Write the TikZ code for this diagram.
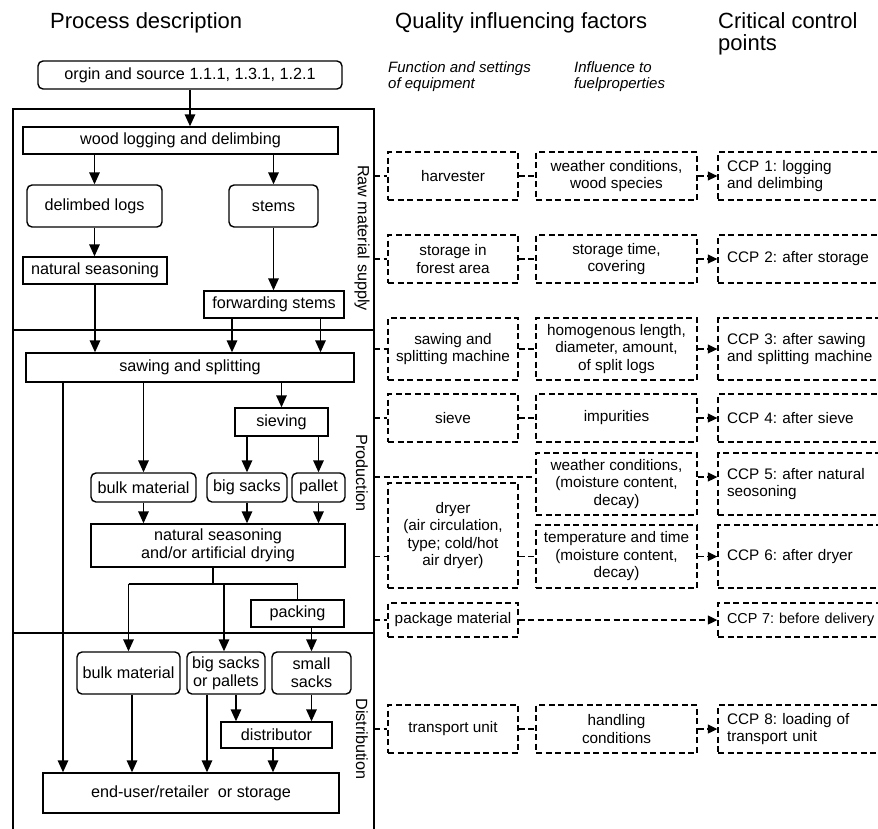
\documentclass[tikz,border=0pt]{standalone}
\usepackage{fontspec}
\setmainfont{Liberation Sans}
\usetikzlibrary{arrows.meta}
\frenchspacing
\begin{document}
\begin{tikzpicture}[x=1pt,y=-1pt,
  solidbox/.style={draw, line width=1.4pt, inner sep=0pt, align=center, font=\fontsize{16.2}{18}\selectfont},
  rbox/.style={solidbox, rounded corners=5pt},
  dbox/.style={draw, line width=1.35pt, dash pattern=on 6pt off 3.5pt, inner sep=0pt, align=center, font=\fontsize{15.3}{17.5}\selectfont},
  acol/.style={dbox, minimum width=130pt},
  bcol/.style={dbox, minimum width=161pt},
  ccp/.style={dbox, align=left, text width=175pt, inner xsep=9pt},
  arr/.style={line width=1.6pt, -{Triangle[length=12pt,width=10.5pt]}},
  ln/.style={line width=1.6pt},
  darr/.style={line width=1.35pt, dash pattern=on 6pt off 3.5pt, -{Triangle[length=9.5pt,width=9pt]}},
  dln/.style={line width=1.35pt, dash pattern=on 6pt off 3.5pt},
  frameline/.style={line width=1.6pt},
  side/.style={rotate=-90, inner sep=0pt, font=\fontsize{16.2}{18}\selectfont},
  head/.style={font=\fontsize{22}{22}\selectfont, inner sep=0pt, align=left},
  sub/.style={font=\fontsize{15}{16}\selectfont\itshape, inner sep=0pt, align=left}
]
\path[use as bounding box] (0,0) rectangle (878,828);
\clip (0,0) rectangle (878,828);

% headers
\node[head, anchor=base west] (h1) at (50,28) {Process description};
\node[head, anchor=base west] (h2) at (395,28) {Quality influencing factors};
\node[head, anchor=north west] (h3) at (718,12) {Critical control\\points};
\node[sub, anchor=north west] (s1) at (388,61) {Function and settings\\of equipment};
\node[sub, anchor=north west] (s2) at (574,61) {Influence to\\fuelproperties};

% frame
\coordinate (ftl) at (13,109);
\coordinate (ftr) at (374,109);
\coordinate (fbl) at (13,835);
\coordinate (fbr) at (374,835);
\coordinate (d1l) at (13,330);
\coordinate (d1r) at (374,330);
\coordinate (d2l) at (13,633);
\coordinate (d2r) at (374,633);
\draw[frameline] (fbl) -- (ftl) -- (ftr) -- (fbr);
\draw[frameline] (d1l) -- (d1r);
\draw[frameline] (d2l) -- (d2r);

% side labels
\node[side] (lraw) at (362,238) {Raw material supply};
\node[side] (lprod) at (362,473) {Production};
\node[side] (ldist) at (362,739) {Distribution};

% process boxes
\node[rbox, minimum width=304pt, minimum height=28pt] (src) at (190,75) {orgin and source 1.1.1, 1.3.1, 1.2.1};
\node[solidbox, minimum width=315pt, minimum height=27pt] (wood) at (180.5,140.5) {wood logging and delimbing};
\node[rbox, minimum width=135pt, minimum height=42pt] (dlogs) at (94.5,206) {delimbed logs};
\node[rbox, minimum width=89pt, minimum height=42pt] (stems) at (273.5,206) {stems};
\node[solidbox, minimum width=144pt, minimum height=27pt] (natseas) at (95,270.5) {natural seasoning};
\node[solidbox, minimum width=140pt, minimum height=27pt] (fwd) at (274,304.5) {forwarding stems};
\node[solidbox, minimum width=328pt, minimum height=29pt] (saw) at (190,367.5) {sawing and splitting};
\node[solidbox, minimum width=93pt, minimum height=28pt] (sieving) at (281.5,422) {sieving};
\node[rbox, minimum width=105pt, minimum height=29pt] (bulkA) at (143.5,487.5) {bulk material};
\node[rbox, minimum width=80pt, minimum height=29pt] (bigs) at (247,487.5) {big sacks};
\node[rbox, minimum width=53pt, minimum height=29pt] (pallet) at (318.5,487.5) {pallet};
\node[solidbox, minimum width=254pt, minimum height=43pt] (dry) at (218,545.5) {natural seasoning\\and/or artificial drying};
\node[solidbox, minimum width=93pt, minimum height=27pt] (packing) at (297.5,613.5) {packing};
\node[rbox, minimum width=103pt, minimum height=42pt] (bulkB) at (128.5,673) {bulk material};
\node[rbox, minimum width=78pt, minimum height=42pt] (bsp) at (226,673) {big sacks\\or pallets};
\node[rbox, minimum width=79pt, minimum height=42pt] (small) at (311.5,673) {small\\sacks};
\node[solidbox, minimum width=111pt, minimum height=26pt] (distr) at (276.5,735) {distributor};
\node[solidbox, minimum width=296pt, minimum height=40pt] (end) at (191,793) {end-user/retailer\ \ or storage};

% process connectors
\draw[arr] (src.south) -- (src.south |- wood.north);
\draw[arr] (dlogs.north |- wood.south) -- (dlogs.north);
\draw[arr] (stems.north |- wood.south) -- (stems.north);
\draw[arr] (dlogs.south) -- (dlogs.south |- natseas.north);
\draw[arr] (stems.south) -- (stems.south |- fwd.north);
\draw[arr] (natseas.south) -- (natseas.south |- saw.north);
\coordinate (fa) at ([xshift=-42pt]fwd.south);
\coordinate (fb) at ([xshift=46.5pt]fwd.south);
\draw[arr] (fa) -- (fa |- saw.north);
\draw[arr] (fb) -- (fb |- saw.north);
\coordinate (sa) at ([xshift=-127pt]saw.south);
\draw[arr] (sa) -- (sa |- end.north);
\draw[arr] (bulkA.north |- saw.south) -- (bulkA.north);
\draw[arr] (sieving.north |- saw.south) -- (sieving.north);
\draw[arr] (bigs.north |- sieving.south) -- (bigs.north);
\draw[arr] (pallet.north |- sieving.south) -- (pallet.north);
\draw[arr] (bulkA.south) -- (bulkA.south |- dry.north);
\draw[arr] (bigs.south) -- (bigs.south |- dry.north);
\draw[arr] (pallet.south) -- (pallet.south |- dry.north);
\coordinate (d0) at ([xshift=-5pt]dry.south);
\coordinate (jn) at ([yshift=-16pt]d0);
\draw[ln] (d0) -- (jn);
\draw[ln] (bulkB.north |- jn) -- (packing.north |- jn) -- (packing.north);
\draw[arr] (bulkB.north |- jn) -- (bulkB.north);
\coordinate (bj) at ([xshift=-2pt]bsp.north);
\draw[arr] (bj |- jn) -- (bj);
\draw[arr] (small.north |- packing.south) -- (small.north);
\coordinate (ba) at ([xshift=3.5pt]bulkB.south);
\draw[arr] (ba) -- (ba |- end.north);
\coordinate (pa) at ([xshift=-19pt]bsp.south);
\coordinate (pb) at ([xshift=10pt]bsp.south);
\draw[arr] (pa) -- (pa |- end.north);
\draw[arr] (pb) -- (pb |- distr.north);
\draw[arr] (small.south) -- (small.south |- distr.north);
\coordinate (da) at ([xshift=-3.5pt]distr.south);
\draw[arr] (da) -- (da |- end.north);

% quality factors
\node[acol, minimum height=48pt] (a1) at (453,176) {harvester};
\node[bcol, minimum height=48pt] (b1) at (616.5,176) {weather conditions,\\wood species};
\node[ccp, minimum height=48pt] (c1) at (814.5,176) {CCP 1: logging\\and delimbing};

\node[acol, minimum height=48pt] (a2) at (453,259) {storage in\\forest area};
\node[bcol, minimum height=48pt] (b2) at (616.5,259) {storage time,\\covering};
\node[ccp, minimum height=48pt] (c2) at (814.5,259) {CCP 2: after storage};

\node[acol, minimum height=62pt] (a3) at (453,349) {sawing and\\splitting machine};
\node[bcol, minimum height=62pt] (b3) at (616.5,349) {homogenous length,\\diameter, amount,\\of split logs};
\node[ccp, minimum height=62pt] (c3) at (814.5,349) {CCP 3: after sawing\\and splitting machine};

\node[acol, minimum height=48pt] (a4) at (453,418) {sieve};
\node[bcol, minimum height=48pt] (b4) at (616.5,418) {impurities};
\node[ccp, minimum height=48pt] (c4) at (814.5,418) {CCP 4: after sieve};

\node[bcol, minimum height=62pt] (b5) at (616.5,484) {weather conditions,\\(moisture content,\\decay)};
\node[ccp, minimum height=62pt] (c5) at (814.5,484) {CCP 5: after natural\\seosoning};

\node[acol, minimum height=105pt] (a6) at (453,535.5) {dryer\\(air circulation,\\type; cold/hot\\air dryer)};
\node[bcol, minimum height=63pt] (b6) at (616.5,556.5) {temperature and time\\(moisture content,\\decay)};
\node[ccp, minimum height=63pt] (c6) at (814.5,556.5) {CCP 6: after dryer};

\node[acol, minimum height=34pt] (a7) at (453,620) {package material};
\node[ccp, minimum height=34pt, font=\fontsize{14.4}{17}\selectfont] (c7) at (814.5,620) {CCP 7: before delivery};

\node[acol, minimum height=48pt] (a8) at (453,729) {transport unit};
\node[bcol, minimum height=48pt] (b8) at (616.5,729) {handling\\conditions};
\node[ccp, minimum height=48pt] (c8) at (814.5,729) {CCP 8: loading of\\transport unit};

% right connectors
\foreach \r in {1,2,3,4,8}{
  \draw[dln] (ftr |- a\r.west) -- (a\r.west);
  \draw[dln] (a\r) -- (b\r);
  \draw[darr] (b\r.east) -- (c\r.west);
}
\coordinate (f5) at ([yshift=7pt]d1r |- b5.west);
\draw[dln] (f5) -- (f5 -| b5.west);
\draw[darr] ([yshift=7pt]b5.east) -- ([yshift=7pt]c5.west);
\draw[dln] (ftr |- b6.west) -- (b6.west -| a6.west);
\draw[dln] (b6.west -| a6.east) -- (b6.west);
\draw[darr] (b6.east) -- (c6.west);
\draw[dln] (ftr |- a7.west) -- (a7.west);
\draw[darr] (a7.east) -- (c7.west);
\end{tikzpicture}
\end{document}
